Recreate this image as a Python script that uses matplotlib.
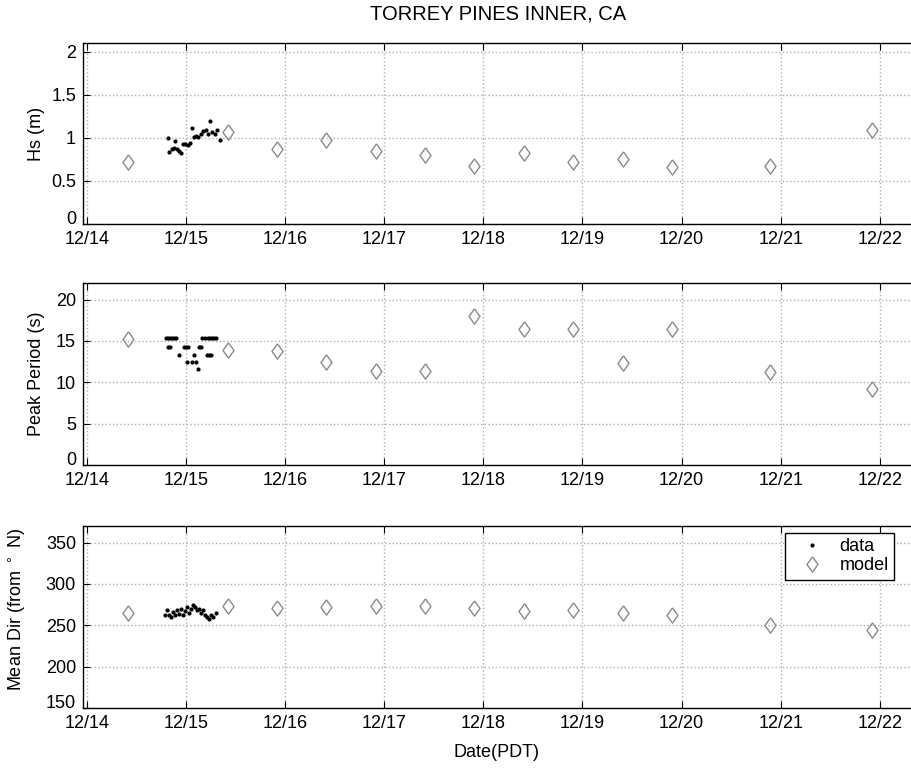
import numpy as np
import matplotlib.pyplot as plt

plt.rcParams['font.family'] = ['Liberation Sans', 'DejaVu Sans']

# model output (time in days of December)
model_t = [14.41, 15.42, 15.92, 16.41, 16.92, 17.41, 17.91, 18.41, 18.90, 19.41, 19.90, 20.89, 21.92]
model_hs = [0.72, 1.07, 0.87, 0.97, 0.85, 0.80, 0.67, 0.82, 0.72, 0.75, 0.66, 0.67, 1.09]
model_tp = [15.2, 13.9, 13.8, 12.5, 11.4, 11.4, 18.0, 16.4, 16.4, 12.3, 16.4, 11.2, 9.2]
model_dir = [265, 273, 271, 272, 273, 273, 271, 267, 268, 265, 262, 250, 244]

# buoy data
hs_t = [14.82, 14.83, 14.86, 14.88, 14.89, 14.91, 14.93, 14.95, 14.97, 14.99, 15.02, 15.04, 15.06,
        15.08, 15.10, 15.12, 15.15, 15.17, 15.20, 15.22, 15.24, 15.26, 15.29, 15.31, 15.34]
hs = [1.00, 0.83, 0.87, 0.88, 0.96, 0.87, 0.85, 0.82, 0.93, 0.93, 0.92, 0.94, 1.11,
      1.01, 1.02, 1.01, 1.05, 1.08, 1.09, 1.05, 1.19, 1.07, 1.05, 1.09, 0.98]

tp_t = [14.80, 14.82, 14.84, 14.86, 14.88, 14.90, 14.82, 14.84, 14.93, 14.98, 15.00, 15.02, 15.01,
        15.08, 15.10, 15.12, 15.13, 15.15, 15.16, 15.19, 15.21, 15.23, 15.25, 15.22, 15.24, 15.26,
        15.28, 15.30, 15.06]
tp = [15.4, 15.4, 15.4, 15.4, 15.4, 15.4, 14.3, 14.3, 13.3, 14.3, 14.3, 14.3, 12.5,
      13.3, 12.5, 11.6, 14.3, 14.3, 15.4, 15.4, 13.3, 13.3, 13.3, 15.4, 15.4, 15.4,
      15.4, 15.4, 12.5]

dir_t = [14.79, 14.81, 14.83, 14.85, 14.87, 14.89, 14.91, 14.93, 14.95, 14.97, 14.99, 15.01, 15.03,
         15.05, 15.07, 15.09, 15.11, 15.13, 15.15, 15.17, 15.19, 15.21, 15.23, 15.25, 15.27, 15.30]
mdir = [262, 268, 263, 260, 266, 262, 268, 264, 270, 262, 267, 272, 265,
        270, 275, 272, 268, 270, 265, 268, 263, 260, 258, 262, 260, 265]

day_ticks = list(range(14, 23))
day_labels = ['12/%d' % d for d in day_ticks]

panels = [
    (hs_t, hs, model_hs, 'Hs (m)', (0, 2.1), [0, 0.5, 1, 1.5, 2], ['0', '0.5', '1', '1.5', '2']),
    (tp_t, tp, model_tp, 'Peak Period (s)', (0, 22), [0, 5, 10, 15, 20], ['0', '5', '10', '15', '20']),
    (dir_t, mdir, model_dir, 'Mean Dir (from $^\\circ$ N)', (150, 370), [150, 200, 250, 300, 350],
     ['150', '200', '250', '300', '350']),
]

# wide-ish diamond like matlab's
diamond = [(0, 1), (0.72, 0), (0, -1), (-0.72, 0), (0, 1)]

fs = 13
fig = plt.figure(figsize=(9.12, 7.70), dpi=100)
W, H = 912, 770
left, right = 83, 960
tops = [43, 283, 526]
bots = [224, 465, 708]
px_day = 99.1
xmax = 14 + (right - 87) / px_day

axes = []
for i, (dt, dv, mv, lab, yl, yt, ytl) in enumerate(panels):
    ax = fig.add_axes([left / W, 1 - bots[i] / H, (right - left) / W, (bots[i] - tops[i]) / H])
    ax.plot(dt, dv, '.', color='black', markersize=4, label='data')
    ax.plot(model_t, mv, marker=diamond, ls='none', mfc='none', mec='#8a8a8a', mew=1.0,
            markersize=11, label='model')
    ax.set_xlim(14 - 4 / px_day, xmax)
    ax.set_ylim(*yl)
    ax.set_xticks(day_ticks)
    ax.set_xticklabels(day_labels)
    ax.set_yticks(yt)
    ax.set_yticklabels(ytl)
    ax.get_yticklabels()[0].set_va('baseline')  # lowest label sits just above the date labels
    ax.grid(True, linestyle=':', color='#b0b0b0', linewidth=1.0)
    ax.tick_params(direction='in', top=True, right=True, labelsize=fs, length=5)
    ax.tick_params(axis='x', pad=5)
    ax.tick_params(axis='y', pad=5)
    ax.set_ylabel(lab, fontsize=fs)
    ax.yaxis.set_label_coords(-38 / (right - left), 0.5)
    for s in ax.spines.values():
        s.set_linewidth(1.0)
    axes.append(ax)

axes[2].yaxis.set_label_coords(-55 / (right - left), 0.54)
axes[2].set_xlabel('Date(PDT)', fontsize=fs)
axes[2].xaxis.set_label_coords((497 - left) / (right - left), -0.2)

fig.text(498 / W, 1 - 14 / H, 'TORREY PINES INNER, CA', ha='center', va='center', fontsize=fs + 1.5)

leg = axes[2].legend(loc='upper right', bbox_to_anchor=(894 / W, 1 - 533 / H),
                     bbox_transform=fig.transFigure, fancybox=False, framealpha=1,
                     edgecolor='black', fontsize=fs, handletextpad=0.3, handlelength=2.4,
                     borderpad=0.3, labelspacing=0.1, borderaxespad=0)
leg.get_frame().set_linewidth(1.0)

fig.savefig('out.png', dpi=100)
